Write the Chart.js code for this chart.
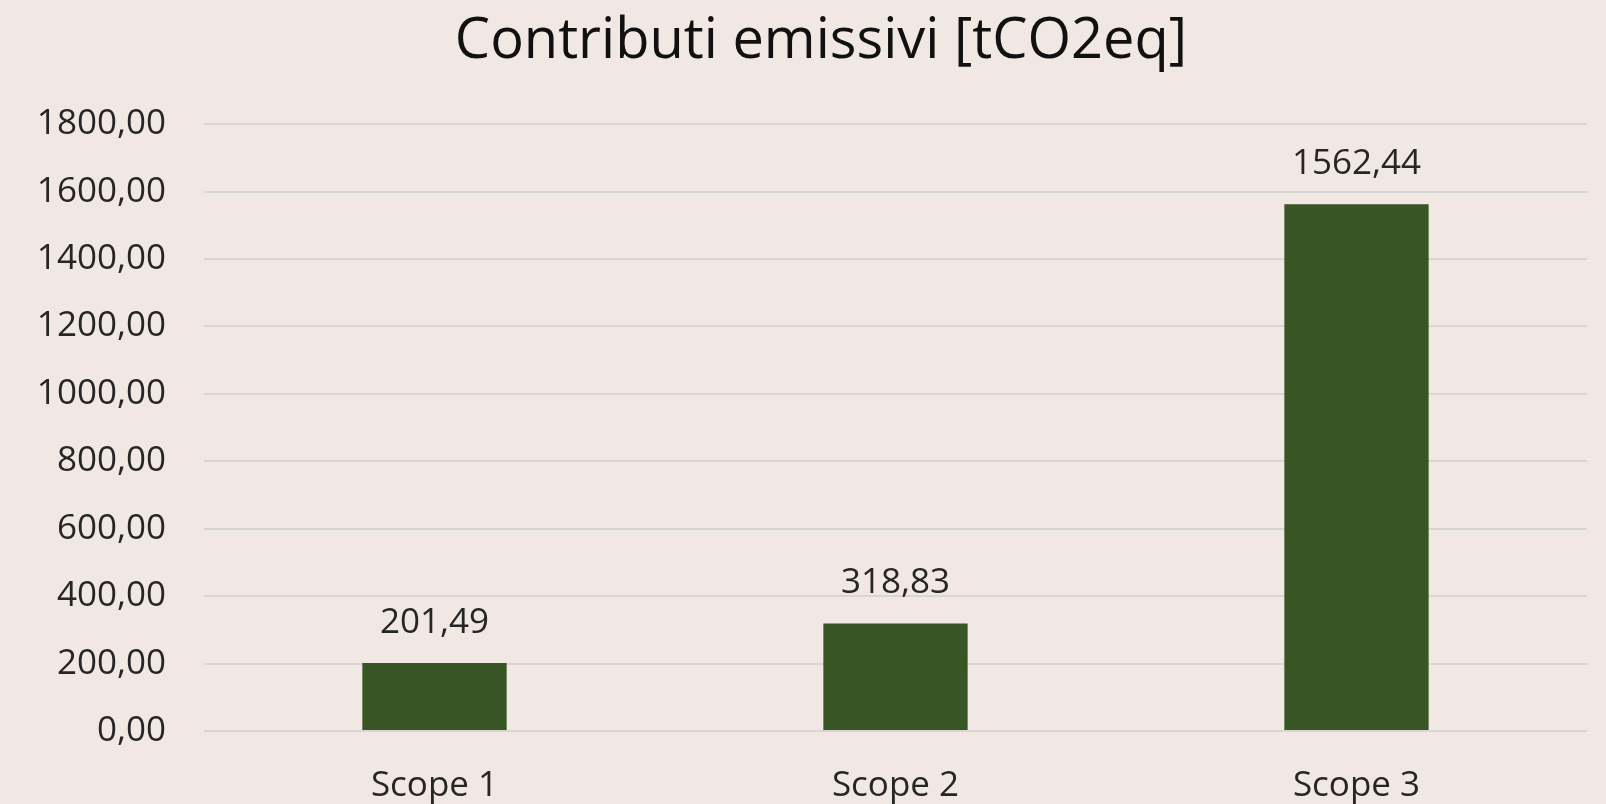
<!DOCTYPE html>
<html>
<head>
<meta charset="utf-8">
<script src="https://cdn.jsdelivr.net/npm/chart.js@4/dist/chart.umd.min.js"></script>
<style>
  html, body { margin: 0; padding: 0; background: #f1e8e3; }
  #wrap { width: 1606px; height: 804px; }
</style>
</head>
<body>
<div id="wrap"><canvas id="c" width="1606" height="804"></canvas></div>
<script>
const categories = ['Scope 1', 'Scope 2', 'Scope 3'];
const emissions = [201.49, 318.83, 1562.44];
const yMin = 0;
const yMax = 1800;
const yStep = 200;
const chartTitle = 'Contributi emissivi [tCO2eq]';

const fmt = v => v.toFixed(2).replace('.', ',');

const dataLabels = {
  id: 'dataLabels',
  afterDatasetsDraw(chart) {
    const ctx = chart.ctx;
    const meta = chart.getDatasetMeta(0);
    ctx.save();
    ctx.font = '35px "Open Sans"';
    ctx.fillStyle = '#262626';
    ctx.textAlign = 'center';
    ctx.textBaseline = 'middle';
    meta.data.forEach((bar, i) => {
      ctx.fillText(fmt(emissions[i]), bar.x, bar.y - 40);
    });
    ctx.restore();
  }
};

// Title drawn slightly right of the canvas centre, as in the reference
const shiftedTitle = {
  id: 'shiftedTitle',
  afterDraw(chart) {
    const tb = chart.titleBlock;
    const ctx = chart.ctx;
    ctx.save();
    ctx.font = '56px "Open Sans"';
    ctx.fillStyle = '#111111';
    ctx.textAlign = 'center';
    ctx.textBaseline = 'middle';
    ctx.fillText(chartTitle, chart.width / 2 + 18, tb.top + 56 * 1.2 / 2);
    ctx.restore();
  }
};

new Chart(document.getElementById('c'), {
  type: 'bar',
  data: {
    labels: categories,
    datasets: [{
      data: emissions,
      backgroundColor: '#375623',
      borderWidth: 0,
      categoryPercentage: 1,
      barPercentage: 0.313
    }]
  },
  options: {
    responsive: false,
    animation: false,
    layout: { padding: { left: 0, right: 19, top: 8, bottom: 0 } },
    plugins: {
      legend: { display: false },
      tooltip: { enabled: false },
      title: {
        display: true,
        text: chartTitle,
        color: 'rgba(0,0,0,0)',
        font: { family: '"Open Sans"', size: 56, weight: 'normal' },
        padding: { top: 0, bottom: 49 }
      }
    },
    scales: {
      x: {
        grid: { display: false, drawTicks: false },
        border: { display: false },
        ticks: {
          color: '#262626',
          font: { family: '"Open Sans"', size: 35 },
          padding: 34
        },
        afterFit(scale) { scale.height = 73; }
      },
      y: {
        min: yMin,
        max: yMax,
        grid: { color: '#d6d6d6', lineWidth: 2, drawTicks: false },
        border: { display: false },
        ticks: {
          stepSize: yStep,
          color: '#262626',
          font: { family: '"Open Sans"', size: 35 },
          padding: 38,
          callback: v => fmt(v)
        },
        afterFit(scale) { scale.width = 204; }
      }
    }
  },
  plugins: [dataLabels, shiftedTitle]
});
</script>
</body>
</html>
